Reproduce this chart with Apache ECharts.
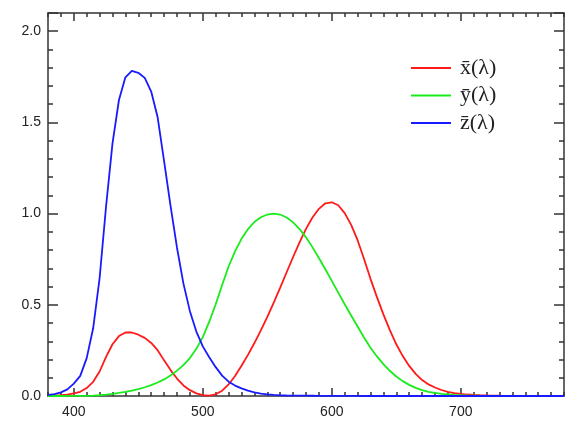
<!DOCTYPE html>
<html>
<head>
<meta charset="utf-8">
<script src="https://cdn.jsdelivr.net/npm/echarts@6/dist/echarts.min.js"></script>
<style>
  html, body { margin: 0; padding: 0; background: #fff; }
  #chart { width: 587px; height: 433px; }
</style>
</head>
<body>
<div id="chart"></div>
<script>
// CIE 1931 2-degree colour matching functions, 5 nm steps
const wavelengths = [
  380, 385, 390, 395, 400, 405, 410, 415, 420, 425, 430, 435, 440, 445, 450, 455, 460, 465, 470, 475,
  480, 485, 490, 495, 500, 505, 510, 515, 520, 525, 530, 535, 540, 545, 550, 555, 560, 565, 570, 575,
  580, 585, 590, 595, 600, 605, 610, 615, 620, 625, 630, 635, 640, 645, 650, 655, 660, 665, 670, 675,
  680, 685, 690, 695, 700, 705, 710, 715, 720, 725, 730, 735, 740, 745, 750, 755, 760, 765, 770, 775, 780
];
const xBar = [
  0.0014, 0.0022, 0.0042, 0.0077, 0.0143, 0.0232, 0.0435, 0.0776, 0.1344, 0.2148, 0.2839, 0.3285, 0.3483, 0.3481, 0.3362, 0.3187, 0.2908, 0.2511, 0.1954, 0.1421,
  0.0956, 0.0580, 0.0320, 0.0147, 0.0049, 0.0024, 0.0093, 0.0291, 0.0633, 0.1096, 0.1655, 0.2257, 0.2904, 0.3597, 0.4334, 0.5121, 0.5945, 0.6784, 0.7621, 0.8425,
  0.9163, 0.9786, 1.0263, 1.0567, 1.0622, 1.0456, 1.0026, 0.9384, 0.8544, 0.7514, 0.6424, 0.5419, 0.4479, 0.3608, 0.2835, 0.2187, 0.1649, 0.1212, 0.0874, 0.0636,
  0.0468, 0.0329, 0.0227, 0.0158, 0.0114, 0.0081, 0.0058, 0.0041, 0.0029, 0.0020, 0.0014, 0.0010, 0.0007, 0.0005, 0.0003, 0.0002, 0.0002, 0.0001, 0.0001, 0.0001, 0.0000
];
const yBar = [
  0.0000, 0.0001, 0.0001, 0.0002, 0.0004, 0.0006, 0.0012, 0.0022, 0.0040, 0.0073, 0.0116, 0.0168, 0.0230, 0.0298, 0.0380, 0.0480, 0.0600, 0.0739, 0.0910, 0.1126,
  0.1390, 0.1693, 0.2080, 0.2586, 0.3230, 0.4073, 0.5030, 0.6082, 0.7100, 0.7932, 0.8620, 0.9149, 0.9540, 0.9803, 0.9950, 1.0000, 0.9950, 0.9786, 0.9520, 0.9154,
  0.8700, 0.8163, 0.7570, 0.6949, 0.6310, 0.5668, 0.5030, 0.4412, 0.3810, 0.3210, 0.2650, 0.2170, 0.1750, 0.1382, 0.1070, 0.0816, 0.0610, 0.0446, 0.0320, 0.0232,
  0.0170, 0.0119, 0.0082, 0.0057, 0.0041, 0.0029, 0.0021, 0.0015, 0.0010, 0.0007, 0.0005, 0.0004, 0.0002, 0.0002, 0.0001, 0.0001, 0.0001, 0.0000, 0.0000, 0.0000, 0.0000
];
const zBar = [
  0.0065, 0.0106, 0.0201, 0.0362, 0.0679, 0.1102, 0.2074, 0.3713, 0.6456, 1.0391, 1.3856, 1.6230, 1.7471, 1.7826, 1.7721, 1.7441, 1.6692, 1.5281, 1.2876, 1.0419,
  0.8130, 0.6162, 0.4652, 0.3533, 0.2720, 0.2123, 0.1582, 0.1117, 0.0783, 0.0573, 0.0422, 0.0298, 0.0203, 0.0134, 0.0088, 0.0058, 0.0039, 0.0028, 0.0021, 0.0018,
  0.0017, 0.0014, 0.0011, 0.0010, 0.0008, 0.0006, 0.0003, 0.0002, 0.0002, 0.0001, 0.0001, 0.0000, 0.0000, 0.0000, 0.0000, 0.0000, 0.0000, 0.0000, 0.0000, 0.0000,
  0.0000, 0.0000, 0.0000, 0.0000, 0.0000, 0.0000, 0.0000, 0.0000, 0.0000, 0.0000, 0.0000, 0.0000, 0.0000, 0.0000, 0.0000, 0.0000, 0.0000, 0.0000, 0.0000, 0.0000, 0.0000
];
const seriesNames = ['x\u0304(\u03bb)', 'y\u0304(\u03bb)', 'z\u0304(\u03bb)'];
const seriesColors = ['#ff1a1a', '#1aeb1a', '#1a1aff'];

const axisColor = '#333';
const labelFont = { fontFamily: 'Liberation Sans', fontSize: 14, color: '#222' };

// category x axes: one with the 10 nm ticks, one overlaid with the 100 nm ticks
function xAxisFor(position, step, len, withLine, withLabels) {
  return {
    type: 'category',
    data: wavelengths,
    boundaryGap: false,
    position: position,
    axisLine: { show: withLine, onZero: false, lineStyle: { color: axisColor, width: 1.5 } },
    axisTick: {
      show: true, inside: true, length: len,
      interval: (i, v) => Number(v) % step === 0,
      lineStyle: { color: axisColor, width: 1.5 }
    },
    axisLabel: {
      show: withLabels, margin: 9, ...labelFont,
      interval: (i, v) => Number(v) % 100 === 0
    },
    splitLine: { show: false }
  };
}

function yAxisFor(position, step, len, withLine, withLabels) {
  return {
    type: 'value',
    min: 0, max: 2.1, interval: step,
    position: position,
    axisLine: { show: withLine, onZero: false, lineStyle: { color: axisColor, width: 1.5 } },
    axisTick: { show: true, inside: true, length: len, lineStyle: { color: axisColor, width: 1.5 } },
    axisLabel: {
      show: withLabels, margin: 7, ...labelFont,
      formatter: v => {
        const k = Math.round(v * 10);
        return (k % 5 === 0 && k <= 20) ? (k / 10).toFixed(1) : '';
      }
    },
    splitLine: { show: false }
  };
}

const chart = echarts.init(document.getElementById('chart'), null, { renderer: 'canvas' });
chart.setOption({
  animation: false,
  backgroundColor: '#fff',
  grid: { left: 48, right: 23, top: 13, bottom: 37 },
  legend: {
    orient: 'vertical',
    left: 411, top: 57,
    padding: 0,
    icon: 'rect',
    itemWidth: 40, itemHeight: 2,
    itemGap: 5.5,
    data: seriesNames,
    textStyle: { fontFamily: 'Liberation Serif', fontSize: 22, color: '#222', lineHeight: 22, padding: [0, 0, 0, 4] }
  },
  xAxis: [
    xAxisFor('bottom', 10, 4, true, true),
    xAxisFor('bottom', 100, 8, false, false),
    xAxisFor('top', 10, 4, true, false),
    xAxisFor('top', 100, 8, false, false)
  ],
  yAxis: [
    yAxisFor('left', 0.1, 5, true, true),
    yAxisFor('left', 0.5, 10, false, false),
    yAxisFor('right', 0.1, 5, true, false),
    yAxisFor('right', 0.5, 10, false, false)
  ],
  series: [xBar, yBar, zBar].map((d, i) => ({
    name: seriesNames[i],
    type: 'line',
    data: d,
    xAxisIndex: 0,
    yAxisIndex: 0,
    symbol: 'none',
    color: seriesColors[i],
    lineStyle: { color: seriesColors[i], width: 1.8 }
  }))
});
</script>
</body>
</html>
